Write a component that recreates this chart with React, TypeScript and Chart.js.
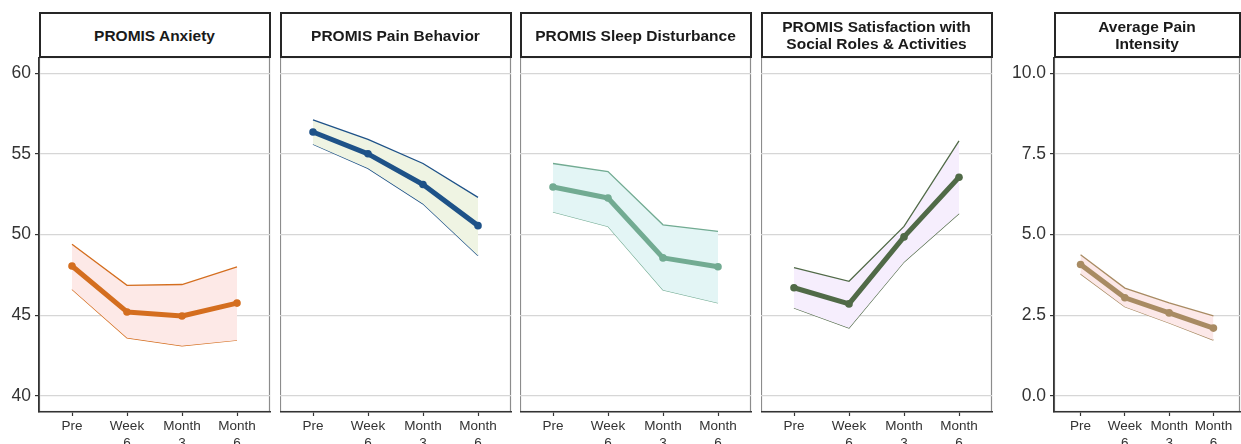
import React, { useEffect, useRef } from 'react';
import { Chart, registerables } from 'chart.js';

Chart.register(...registerables);

// ---- data ----
const timepoints = ['Pre', 'Week 6', 'Month 3', 'Month 6'];

const anxietyMean = [48.05, 45.2, 44.95, 45.75];
const anxietyUpper = [49.4, 46.85, 46.9, 48.0];
const anxietyLower = [46.6, 43.6, 43.1, 43.45];

const painBehaviorMean = [56.35, 55.0, 53.1, 50.55];
const painBehaviorUpper = [57.1, 55.9, 54.4, 52.3];
const painBehaviorLower = [55.6, 54.1, 51.9, 48.7];

const sleepMean = [52.94, 52.26, 48.55, 48.0];
const sleepUpper = [54.4, 53.9, 50.6, 50.2];
const sleepLower = [51.4, 50.5, 46.56, 45.76];

const socialMean = [46.7, 45.7, 49.85, 53.55];
const socialUpper = [47.95, 47.1, 50.5, 55.8];
const socialLower = [45.45, 44.2, 48.3, 51.3];

const painIntensityMean = [4.07, 3.04, 2.57, 2.1];
const painIntensityUpper = [4.37, 3.34, 2.88, 2.48];
const painIntensityLower = [3.78, 2.76, 2.26, 1.73];

const promisTicks = [40, 45, 50, 55, 60];
const painTicks = [0, 2.5, 5, 7.5, 10];

const titles = [
  'PROMIS Anxiety',
  'PROMIS Pain Behavior',
  'PROMIS Sleep Disturbance',
  'PROMIS Satisfaction with\nSocial Roles & Activities',
  'Average Pain\nIntensity',
];

// ---- layout ----
const FONT = "'Liberation Sans', Arial, Helvetica, sans-serif";
const PLOT_TOP = 57;
const PLOT_BOTTOM = 412;
const STRIP_TOP = 12;

type PanelSpec = {
  title: string;
  mean: number[];
  upper: number[];
  lower: number[];
  line: string;
  ribbon: string;
  yMin: number;
  yMax: number;
  yTicks: number[];
  decimals: number;
  showY: boolean;
  left: number;
  right: number;
  yAxisW: number;
};

const panels: PanelSpec[] = [
  { title: titles[0], mean: anxietyMean, upper: anxietyUpper, lower: anxietyLower, line: '#D46E1F', ribbon: '#FDE9E7', yMin: 39, yMax: 61, yTicks: promisTicks, decimals: 0, showY: true, left: 39, right: 270, yAxisW: 39 },
  { title: titles[1], mean: painBehaviorMean, upper: painBehaviorUpper, lower: painBehaviorLower, line: '#1E5288', ribbon: '#EFF4E3', yMin: 39, yMax: 61, yTicks: promisTicks, decimals: 0, showY: false, left: 280, right: 511, yAxisW: 0 },
  { title: titles[2], mean: sleepMean, upper: sleepUpper, lower: sleepLower, line: '#72AB92', ribbon: '#E3F5F5', yMin: 39, yMax: 61, yTicks: promisTicks, decimals: 0, showY: false, left: 520, right: 751, yAxisW: 0 },
  { title: titles[3], mean: socialMean, upper: socialUpper, lower: socialLower, line: '#506A47', ribbon: '#F6EEFD', yMin: 39, yMax: 61, yTicks: promisTicks, decimals: 0, showY: false, left: 761, right: 992, yAxisW: 0 },
  { title: titles[4], mean: painIntensityMean, upper: painIntensityUpper, lower: painIntensityLower, line: '#A88B63', ribbon: '#FCE8E8', yMin: -0.5, yMax: 10.5, yTicks: painTicks, decimals: 1, showY: true, left: 1054, right: 1240, yAxisW: 60 },
];

const panelBorder = {
  id: 'panelBorder',
  beforeDraw(chart: any) {
    const { ctx, chartArea: a } = chart;
    ctx.save();
    ctx.strokeStyle = '#8c8c8c';
    ctx.lineWidth = 1.2;
    ctx.strokeRect(a.left + 0.5, a.top + 0.5, a.right - a.left - 1, a.bottom - a.top - 1);
    ctx.restore();
  },
};

function splitLabel(s: string) {
  const parts = s.split(' ');
  return parts.length > 1 ? parts : s;
}

function Panel({ spec }: { spec: PanelSpec }) {
  const ref = useRef<HTMLCanvasElement>(null);
  const W = spec.right - spec.left + spec.yAxisW + 2;
  const H = 444 - PLOT_TOP;
  const xAxisH = H - (PLOT_BOTTOM - PLOT_TOP);
  useEffect(() => {
    if (!ref.current) return;
    const pts = (arr: number[]) => arr.map((v, i) => ({ x: i, y: v }));
    const chart = new Chart(ref.current, {
      type: 'line',
      data: {
        datasets: [
          {
            label: 'mean',
            data: pts(spec.mean),
            borderColor: spec.line,
            backgroundColor: spec.line,
            borderWidth: 5,
            pointRadius: 3.8,
            pointBorderWidth: 0,
            pointBackgroundColor: spec.line,
            fill: false,
            tension: 0,
            borderCapStyle: 'round',
            borderJoinStyle: 'round',
          },
          {
            label: 'upper',
            data: pts(spec.upper),
            borderColor: spec.line,
            backgroundColor: spec.ribbon,
            borderWidth: 1.3,
            pointRadius: 0,
            fill: '+1',
            tension: 0,
          },
          {
            label: 'lower',
            data: pts(spec.lower),
            borderColor: spec.line,
            borderWidth: 1.3,
            pointRadius: 0,
            fill: false,
            tension: 0,
          },
        ],
      },
      options: {
        responsive: false,
        animation: false,
        events: [],
        layout: { padding: { left: 0, right: 2, top: 0, bottom: 0 }, autoPadding: false },
        plugins: {
          legend: { display: false },
          tooltip: { enabled: false },
          title: { display: false },
        },
        scales: {
          x: {
            type: 'linear',
            min: -0.6,
            max: 3.6,
            afterBuildTicks: (s: any) => {
              s.ticks = timepoints.map((_, i) => ({ value: i }));
            },
            afterFit: (s: any) => {
              s.height = xAxisH;
              s.paddingLeft = 0;
              s.paddingRight = 0;
              s.paddingTop = 0;
              s.paddingBottom = 0;
            },
            ticks: {
              callback: (_v: any, i: number) => splitLabel(timepoints[i]),
              font: { family: FONT, size: 13.5, lineHeight: 1.25 },
              color: '#333333',
              padding: 2,
              maxRotation: 0,
              autoSkip: false,
            },
            grid: { drawOnChartArea: false, drawTicks: true, tickLength: 4, tickColor: '#333333', tickWidth: 1.2 },
            border: { display: true, color: '#333333', width: 1.6 },
          },
          y: {
            type: 'linear',
            min: spec.yMin,
            max: spec.yMax,
            afterBuildTicks: (s: any) => {
              s.ticks = spec.yTicks.map((v) => ({ value: v }));
            },
            afterFit: (s: any) => {
              s.width = spec.yAxisW;
              s.paddingTop = 0;
              s.paddingBottom = 0;
              s.paddingLeft = 0;
              s.paddingRight = 0;
            },
            ticks: {
              display: spec.showY,
              callback: (v: any) => Number(v).toFixed(spec.decimals),
              font: { family: FONT, size: 17.5 },
              color: '#333333',
              padding: 4,
            },
            grid: {
              color: '#d6d6d6',
              lineWidth: 1.2,
              drawTicks: spec.showY,
              tickLength: 4,
              tickColor: '#333333',
              tickWidth: 1.2,
            },
            border: { display: spec.showY, color: '#333333', width: 1.6 },
          },
        },
      },
      plugins: [panelBorder],
    } as any);
    return () => chart.destroy();
  }, []);
  return (
    <div style={{ position: 'absolute', left: spec.left - spec.yAxisW, top: PLOT_TOP, width: W, height: H }}>
      <canvas ref={ref} width={W} height={H} style={{ width: W, height: H, display: 'block' }} />
    </div>
  );
}

function Strip({ spec }: { spec: PanelSpec }) {
  return (
    <div
      style={{
        position: 'absolute',
        left: spec.left - 0.5,
        top: STRIP_TOP,
        width: spec.right - spec.left + 1,
        height: PLOT_TOP - STRIP_TOP + 1,
        boxSizing: 'border-box',
        border: '2px solid #262626',
        background: '#ffffff',
        display: 'flex',
        alignItems: 'center',
        justifyContent: 'center',
        textAlign: 'center',
        whiteSpace: 'pre-line',
        fontFamily: FONT,
        fontWeight: 'bold',
        fontSize: 15.5,
        lineHeight: '17px',
        color: '#1a1a1a',
      }}
    >
      {spec.title}
    </div>
  );
}

export default function App() {
  return (
    <div
      style={{
        position: 'fixed',
        left: 0,
        top: 0,
        width: 1241,
        height: 444,
        background: '#ffffff',
        overflow: 'hidden',
      }}
    >
      {panels.map((p, i) => (
        <Panel key={'p' + i} spec={p} />
      ))}
      {panels.map((p, i) => (
        <Strip key={'s' + i} spec={p} />
      ))}
    </div>
  );
}
